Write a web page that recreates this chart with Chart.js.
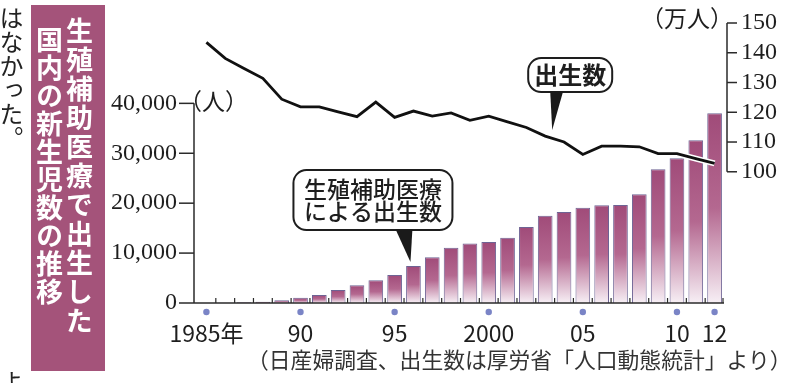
<!DOCTYPE html>
<html lang="ja">
<head>
<meta charset="utf-8">
<script src="https://cdn.jsdelivr.net/npm/chart.js@4.4.1/dist/chart.umd.min.js"></script>
<style>
  html, body { margin: 0; padding: 0; background: #fff; }
  #wrap { position: relative; width: 795px; height: 383px; overflow: hidden; background: #fff; }
  #chart { position: absolute; left: 0; top: 0; }
  .vert { position: absolute; writing-mode: vertical-rl; white-space: nowrap; }
  .edge { font-family: 'Noto Sans CJK JP', sans-serif; font-size: 24px; line-height: 24px; width: 24px; color: #222; }
  #titlebox { position: absolute; left: 31px; top: 5px; width: 74px; height: 366px; background: #a4537a; }
  .tcol { font-family: 'Noto Sans CJK JP', sans-serif; font-weight: 700; font-size: 27px; line-height: 27px; width: 27px; color: #fff; }
  #source { position: absolute; left: 247px; top: 348px; font-family: 'Noto Sans CJK JP', sans-serif; font-size: 21.8px; line-height: 22px; color: #333; white-space: nowrap; }
</style>
</head>
<body>
<div id="wrap">
  <canvas id="chart" width="795" height="383"></canvas>
  <div class="vert edge" style="left:-1px;top:6px">はなかった。</div>
  <div class="vert edge" style="left:-1px;top:370px">よ</div>
  <div id="titlebox"></div>
  <div class="vert tcol" style="left:66px;top:17px;letter-spacing:2px">生殖補助医療で出生した</div>
  <div class="vert tcol" style="left:36px;top:26px;letter-spacing:1px">国内の新生児数の推移</div>
  <div id="source">（日産婦調査、出生数は厚労省「人口動態統計」より）</div>
</div>
<script>
// 生殖補助医療による出生数（人） 1985〜2012
const years = [1985, 1986, 1987, 1988, 1989, 1990, 1991, 1992, 1993, 1994,
               1995, 1996, 1997, 1998, 1999, 2000, 2001, 2002, 2003, 2004,
               2005, 2006, 2007, 2008, 2009, 2010, 2011, 2012];
const artBirths = [20, 60, 150, 250, 550, 1060, 1600, 2600, 3540, 4540,
                   5600, 7400, 9150, 11080, 11900, 12200, 13090, 15230, 17500, 18240,
                   19100, 19580, 19640, 21780, 26790, 29000, 32600, 38000];
// 出生数（万人）
const allBirths = [143.5, 138.1, 134.7, 131.4, 124.4, 121.8, 121.8, 120.1, 118.5, 123.4,
                   118.3, 120.4, 118.7, 119.8, 117.3, 118.7, 116.8, 114.9, 112.0, 110.0,
                   105.8, 108.6, 108.6, 108.4, 106.1, 106.1, 104.4, 102.8];

const tickYears = [1985, 1990, 1995, 2000, 2005, 2010, 2012];
const tickText = ['1985年', '90', '95', '2000', '05', '10', '12'];
const leftTicks = [0, 10000, 20000, 30000, 40000];
const rightTicks = [100, 110, 120, 130, 140, 150];

const ink = '#1e1e1e';
const serif = "'Liberation Serif', 'Noto Sans CJK JP', serif";
const gothic = "'Noto Sans CJK JP', sans-serif";

// bar gradient per bar, dark on top
function barFill(context) {
    const chart = context.chart;
    if (!chart.chartArea || context.type !== 'data') return '#a2507c';
    const y = chart.scales.y;
    const top = y.getPixelForValue(context.raw);
    const bottom = y.getPixelForValue(0);
    if (bottom - top < 2) return '#b06088';
    const g = chart.ctx.createLinearGradient(0, top, 0, bottom);
    g.addColorStop(0, '#a04b79');
    g.addColorStop(0.5, '#b46890');
    g.addColorStop(1, '#f7eff5');
    return g;
}

function seg(ctx, x1, y1, x2, y2) {
    ctx.beginPath();
    ctx.moveTo(x1, y1);
    ctx.lineTo(x2, y2);
    ctx.stroke();
}

function roundBox(ctx, x, y, w, h, r) {
    ctx.beginPath();
    ctx.moveTo(x + r, y);
    ctx.arcTo(x + w, y, x + w, y + h, r);
    ctx.arcTo(x + w, y + h, x, y + h, r);
    ctx.arcTo(x, y + h, x, y, r);
    ctx.arcTo(x, y, x + w, y, r);
    ctx.closePath();
}

function callout(ctx, tip, box, base, lines, font, lineGap) {
    ctx.fillStyle = '#fff';
    ctx.strokeStyle = ink;
    ctx.lineWidth = 2;
    roundBox(ctx, tip.x + box.l, tip.y + box.t, box.r - box.l, box.b - box.t, 13);
    ctx.fill();
    ctx.stroke();
    // pointer
    ctx.fillStyle = '#1a1a1a';
    ctx.beginPath();
    ctx.moveTo(tip.x + base[0], tip.y + box.b - 1);
    ctx.lineTo(tip.x + base[1], tip.y + box.b - 1);
    ctx.lineTo(tip.x, tip.y);
    ctx.closePath();
    ctx.fill();
    ctx.fillStyle = ink;
    ctx.font = font;
    ctx.textAlign = 'center';
    ctx.textBaseline = 'middle';
    const cx = tip.x + (box.l + box.r) / 2;
    const cy = tip.y + (box.t + box.b) / 2;
    lines.forEach((s, i) => {
        ctx.fillText(s, cx, cy + (i - (lines.length - 1) / 2) * lineGap);
    });
}

const decor = {
    id: 'decor',
    afterDraw(chart) {
        const { ctx, chartArea: a, scales } = chart;
        const x = scales.x, yl = scales.y, yr = scales.y2;
        ctx.save();
        ctx.strokeStyle = '#2a2a2a';
        ctx.lineWidth = 1.5;

        // left axis
        const lx = a.left - 3;
        const by = yl.getPixelForValue(0);
        seg(ctx, lx, yl.getPixelForValue(40000), lx, by);
        leftTicks.forEach(v => {
            const py = yl.getPixelForValue(v);
            seg(ctx, lx - 15, py, lx, py);
        });

        // right axis
        const rx = a.right + 3;
        seg(ctx, rx, yr.getPixelForValue(150), rx, yr.getPixelForValue(100));
        rightTicks.forEach(v => {
            const py = yr.getPixelForValue(v);
            seg(ctx, rx, py, rx + 10, py);
        });

        // base line with small ticks between years
        seg(ctx, lx, by, a.right, by);
        ctx.lineWidth = 1.2;
        for (let i = 1; i <= years.length; i++) {
            const px = i < years.length
                ? (x.getPixelForValue(i - 1) + x.getPixelForValue(i)) / 2
                : a.right - 1;
            seg(ctx, px, by, px, by - 5);
        }

        // dots under labeled years
        ctx.fillStyle = '#7a84c6';
        tickYears.forEach(yr0 => {
            const px = x.getPixelForValue(years.indexOf(yr0));
            ctx.beginPath();
            ctx.arc(px, by + 9, 3.2, 0, Math.PI * 2);
            ctx.fill();
        });

        // unit labels
        ctx.fillStyle = ink;
        ctx.font = '23px ' + serif;
        ctx.textBaseline = 'middle';
        ctx.textAlign = 'left';
        ctx.fillText('（人）', lx - 15, yl.getPixelForValue(40000) + 1);
        ctx.textAlign = 'right';
        ctx.fillText('（万人）', rx + 6, yr.getPixelForValue(150) - 2);

        // callouts
        const i1 = years.indexOf(2003);
        callout(ctx,
            { x: x.getPixelForValue(i1) + 7, y: yr.getPixelForValue(allBirths[i1]) - 6 },
            { l: -24, r: 60, t: -72, b: -38 }, [-2, 11],
            ['出生数'], '700 24px ' + gothic, 0);
        const i2 = years.indexOf(1996);
        callout(ctx,
            { x: x.getPixelForValue(i2) - 3, y: yl.getPixelForValue(artBirths[i2]) - 4 },
            { l: -117, r: 42, t: -92, b: -32 }, [-15, 2],
            ['生殖補助医療', 'による出生数'], '500 23px ' + gothic, 22);
        ctx.restore();
    }
};

new Chart(document.getElementById('chart'), {
    type: 'bar',
    data: {
        labels: years.map(String),
        datasets: [
            {
                type: 'line',
                data: allBirths,
                yAxisID: 'y2',
                borderColor: '#111',
                borderWidth: 2.8,
                pointRadius: 0,
                tension: 0,
                order: 1
            },
            {
                type: 'line',
                data: allBirths,
                yAxisID: 'y2',
                borderColor: '#fff',
                borderWidth: 6,
                pointRadius: 0,
                tension: 0,
                order: 2
            },
            {
                data: artBirths,
                yAxisID: 'y',
                backgroundColor: barFill,
                borderColor: '#6e6394',
                borderWidth: { left: 1, right: 1, top: 1, bottom: 0 },
                barPercentage: 0.78,
                categoryPercentage: 1,
                order: 3
            }
        ]
    },
    options: {
        responsive: false,
        animation: false,
        devicePixelRatio: 1,
        layout: { padding: { top: 23, left: 0, right: 0, bottom: 0 } },
        plugins: {
            legend: { display: false },
            tooltip: { enabled: false }
        },
        scales: {
            x: {
                offset: true,
                grid: { display: false, drawTicks: false },
                border: { display: false },
                ticks: {
                    autoSkip: false,
                    maxRotation: 0,
                    minRotation: 0,
                    padding: 16,
                    color: ink,
                    font: { family: gothic, size: 23 },
                    callback: (v, i) => {
                        const k = tickYears.indexOf(years[i]);
                        return k >= 0 ? tickText[k] : '';
                    }
                },
                afterFit: s => { s.height = 80; s.paddingLeft = 0; s.paddingRight = 0; }
            },
            y: {
                position: 'left',
                min: 0,
                max: 56100,
                grid: { display: false, drawTicks: false },
                border: { display: false },
                afterBuildTicks: s => { s.ticks = leftTicks.map(v => ({ value: v })); },
                ticks: {
                    padding: 20,
                    color: ink,
                    font: { family: serif, size: 24 },
                    callback: v => v.toLocaleString('en-US')
                },
                afterFit: s => { s.width = 197; s.paddingTop = 0; s.paddingBottom = 0; }
            },
            y2: {
                position: 'right',
                min: 55.9,
                max: 150,
                grid: { display: false, drawTicks: false },
                border: { display: false },
                afterBuildTicks: s => { s.ticks = rightTicks.map(v => ({ value: v })); },
                ticks: {
                    padding: 17,
                    color: ink,
                    font: { family: serif, size: 24 }
                },
                afterFit: s => { s.width = 71; s.paddingTop = 0; s.paddingBottom = 0; }
            }
        }
    },
    plugins: [decor]
});
</script>
</body>
</html>
